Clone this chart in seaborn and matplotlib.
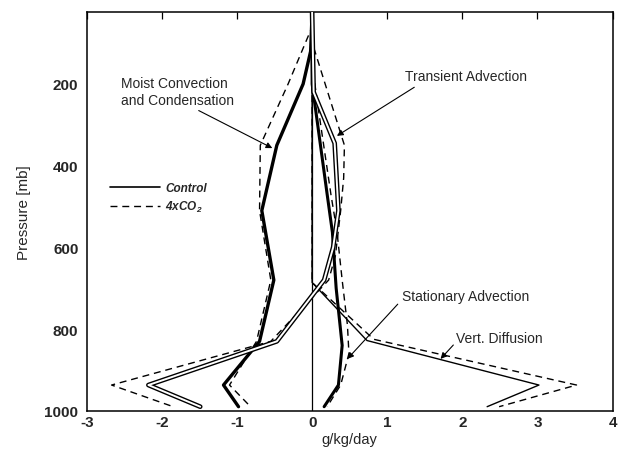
import matplotlib
matplotlib.use("Agg")
import matplotlib.pyplot as plt
from matplotlib.lines import Line2D
import numpy as np
import pandas as pd
import seaborn as sns

# Moisture tendency profiles (g/kg/day) against pressure (mb)
moist_p_ctl = [25, 120, 200, 350, 510, 680, 830, 937, 990]
moist_ctl = [0.0, -0.02, -0.12, -0.47, -0.67, -0.51, -0.70, -1.18, -0.98]
moist_p_4x = [25, 60, 200, 350, 510, 680, 830, 937, 990]
moist_4x = [0.0, 0.0, -0.32, -0.69, -0.70, -0.55, -0.74, -1.10, -0.82]

trans_p_ctl = [25, 220, 345, 510, 600, 680, 830, 937, 990]
trans_ctl = [0.0, 0.02, 0.30, 0.35, 0.28, 0.16, -0.47, -2.18, -1.49]
trans_p_4x = [25, 110, 350, 430, 510, 620, 680, 830, 937, 990]
trans_4x = [0.0, 0.02, 0.43, 0.42, 0.38, 0.31, 0.22, -0.55, -2.67, -1.85]

stat_p_ctl = [25, 200, 470, 563, 700, 840, 937, 990]
stat_ctl = [0.0, 0.0, 0.20, 0.27, 0.32, 0.40, 0.35, 0.16]
stat_p_4x = [25, 150, 245, 470, 560, 680, 790, 860, 937, 990]
stat_4x = [0.0, 0.0, 0.07, 0.25, 0.33, 0.40, 0.47, 0.49, 0.38, 0.20]

vdiff_p_ctl = [25, 686, 828, 937, 990]
vdiff_ctl = [0.0, 0.0, 0.73, 3.02, 2.33]
vdiff_p_4x = [25, 686, 825, 937, 990]
vdiff_4x = [0.0, 0.0, 0.82, 3.52, 2.49]

x_ticks = [-3, -2, -1, 0, 1, 2, 3, 4]
p_major = [200, 400, 600, 800, 1000]
p_minor = [100, 300, 500, 700, 900]

sns.set_theme(style="white")
plt.rcParams["font.family"] = ["Liberation Sans", "DejaVu Sans"]
plt.rcParams["mathtext.fontset"] = "custom"
plt.rcParams["mathtext.rm"] = "Liberation Sans:italic:bold"
plt.rcParams["mathtext.it"] = "Liberation Sans:italic:bold"

fig = plt.figure(figsize=(6.2, 4.52), dpi=100)
ax = fig.add_axes([0.14, 0.089, 0.848, 0.882])
ax.set_facecolor("white")

ax.axvline(0, color="black", lw=0.9, zorder=1)


def profile(x, p):
    return pd.DataFrame({"rate": x, "p": p})


dash = (0, (5, 3.5))

# Vertical diffusion: thin solid / dashed
sns.lineplot(data=profile(vdiff_ctl, vdiff_p_ctl), x="rate", y="p", sort=False,
             estimator=None, color="black", lw=1.0, ax=ax, zorder=2)
sns.lineplot(data=profile(vdiff_4x, vdiff_p_4x), x="rate", y="p", sort=False,
             estimator=None, color="black", lw=1.0, ls=dash, ax=ax, zorder=2)

# Stationary advection: thick solid / dashed
sns.lineplot(data=profile(stat_ctl, stat_p_ctl), x="rate", y="p", sort=False,
             estimator=None, color="black", lw=2.2, ax=ax, zorder=3)
sns.lineplot(data=profile(stat_4x, stat_p_4x), x="rate", y="p", sort=False,
             estimator=None, color="black", lw=1.0, ls=dash, ax=ax, zorder=3)

# Moist convection and condensation: thick solid / dashed
sns.lineplot(data=profile(moist_ctl, moist_p_ctl), x="rate", y="p", sort=False,
             estimator=None, color="black", lw=2.4, ax=ax, zorder=3)
sns.lineplot(data=profile(moist_4x, moist_p_4x), x="rate", y="p", sort=False,
             estimator=None, color="black", lw=1.0, ls=dash, ax=ax, zorder=3)

# Transient advection: hollow (outlined) solid / dashed
sns.lineplot(data=profile(trans_ctl, trans_p_ctl), x="rate", y="p", sort=False,
             estimator=None, color="black", lw=3.4, ax=ax, zorder=4)
sns.lineplot(data=profile(trans_ctl, trans_p_ctl), x="rate", y="p", sort=False,
             estimator=None, color="white", lw=1.4, ax=ax, zorder=5)
sns.lineplot(data=profile(trans_4x, trans_p_4x), x="rate", y="p", sort=False,
             estimator=None, color="black", lw=1.0, ls=dash, ax=ax, zorder=4)

ax.set_xlim(-3, 4)
ax.set_ylim(1000, 24)
ax.set_xticks(x_ticks)
ax.set_xticklabels([str(t) for t in x_ticks])
ax.set_yticks(p_major)
ax.set_yticks(p_minor, minor=True)
ax.set_yticklabels([str(t) for t in p_major])
ax.tick_params(axis="both", which="both", direction="in", length=5, width=0.9,
               color="black", top=True, right=False, labelsize=11)
ax.tick_params(axis="x", pad=3)
ax.tick_params(axis="y", pad=6)
for lab in ax.get_xticklabels() + ax.get_yticklabels():
    lab.set_fontweight("bold")
for side in ["left", "right", "top", "bottom"]:
    ax.spines[side].set_color("black")
    ax.spines[side].set_linewidth(1.1)

ax.set_xlabel("g/kg/day", fontsize=10.5, labelpad=2)
ax.set_ylabel("Pressure [mb]", fontsize=11, labelpad=10)

arrow = dict(arrowstyle="-|>", color="black", lw=0.8, mutation_scale=9,
             shrinkA=0, shrinkB=0)
ax.text(-2.54, 218, "Moist Convection\nand Condensation", ha="left",
        va="center", fontsize=10, linespacing=1.25)
ax.annotate("", xy=(-0.53, 357), xytext=(-1.51, 265), arrowprops=arrow)
ax.text(1.24, 181, "Transient Advection", ha="left", va="center", fontsize=10)
ax.annotate("", xy=(0.33, 327), xytext=(1.36, 208), arrowprops=arrow)
ax.text(1.2, 720, "Stationary Advection", ha="left", va="center", fontsize=10)
ax.annotate("", xy=(0.47, 873), xytext=(1.14, 739), arrowprops=arrow)
ax.text(1.92, 822, "Vert. Diffusion", ha="left", va="center", fontsize=10)
ax.annotate("", xy=(1.71, 873), xytext=(1.88, 839), arrowprops=arrow)

handles = [Line2D([], [], color="black", lw=1.2),
           Line2D([], [], color="black", lw=1.0, ls=dash)]
ax.legend(handles, ["Control", "4xCO$_2$"], loc="center left",
          bbox_to_anchor=(0.044, 0.533), frameon=False, borderaxespad=0,
          borderpad=0, handlelength=4.2, handletextpad=0.5, labelspacing=0.45,
          prop=dict(family="Liberation Sans", style="italic", weight="bold",
                    size=8.5))

fig.savefig("out.png", dpi=100)
